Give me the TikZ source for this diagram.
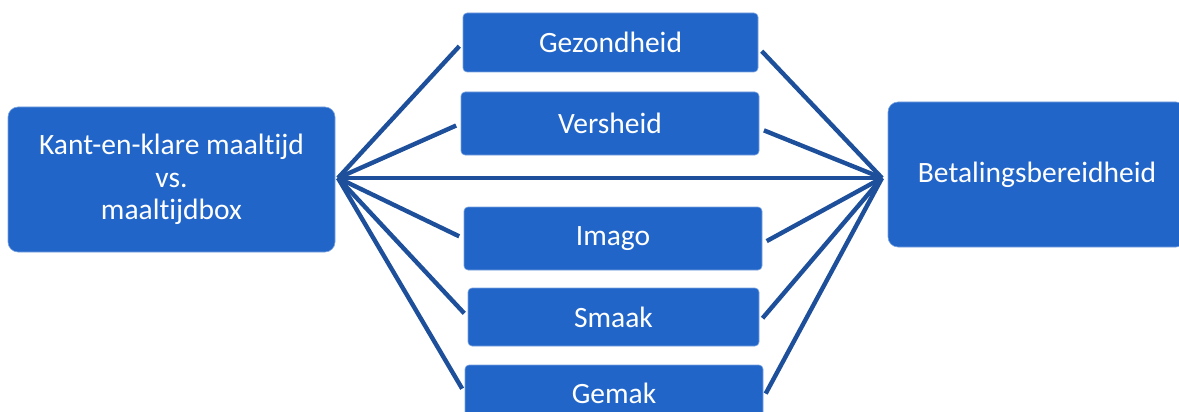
\documentclass[tikz,border=0pt]{standalone}
\usepackage{fontspec}
\setmainfont[Ligatures={NoCommon}]{Carlito}
\definecolor{boxblue}{HTML}{2165C9}
\definecolor{linkblue}{HTML}{1D4F9A}
\begin{document}
\begin{tikzpicture}[x=1pt,y=-1pt,
  box/.style={fill=boxblue, draw=boxblue!60!white, line width=0.6pt, text=white,
    inner sep=0pt, align=center, font=\fontsize{29.5}{32.5}\selectfont},
  bigbox/.style={box, rounded corners=10pt},
  factor/.style={box, rounded corners=4pt},
  link/.style={draw=linkblue, line width=4.4pt}]
\useasboundingbox (0,0) rectangle (1179,412);
\begin{scope}
\clip (0,0) rectangle (1179,412);

% outer blocks
\node[bigbox, minimum width=327pt, minimum height=145pt] (L) at (171.5,179.5)
  {Kant-en-klare maaltijd\\vs.\\maaltijdbox};
\node[bigbox, minimum width=298pt, minimum height=145pt] (R) at (1037,174.5)
  {Betalingsbereidheid};

% mediating factors
\node[factor, minimum width=295pt, minimum height=59pt] (g1) at (610.5,42.5) {Gezondheid};
\node[factor, minimum width=298pt, minimum height=63pt] (g2) at (610,123.5) {Versheid};
\node[factor, minimum width=298pt, minimum height=63pt] (g3) at (613,238.5) {Imago};
\node[factor, minimum width=291pt, minimum height=58pt] (g4) at (613.5,317) {Smaak};
\node[factor, minimum width=298pt, minimum height=56pt] (g5) at (614,393) {Gemak};

% hubs where the links meet
\coordinate (hl) at (338,178);
\coordinate (hr) at (882,178);

\draw[link] (hl) -- (hr);
\foreach \n in {g1,g2,g3,g4,g5}{
  \draw[link, shorten >=5pt] (hl) -- (\n.west);
  \draw[link, shorten <=5pt] ([yshift=-5pt]\n.east) -- (hr);
}
\end{scope}
\end{tikzpicture}
\end{document}
